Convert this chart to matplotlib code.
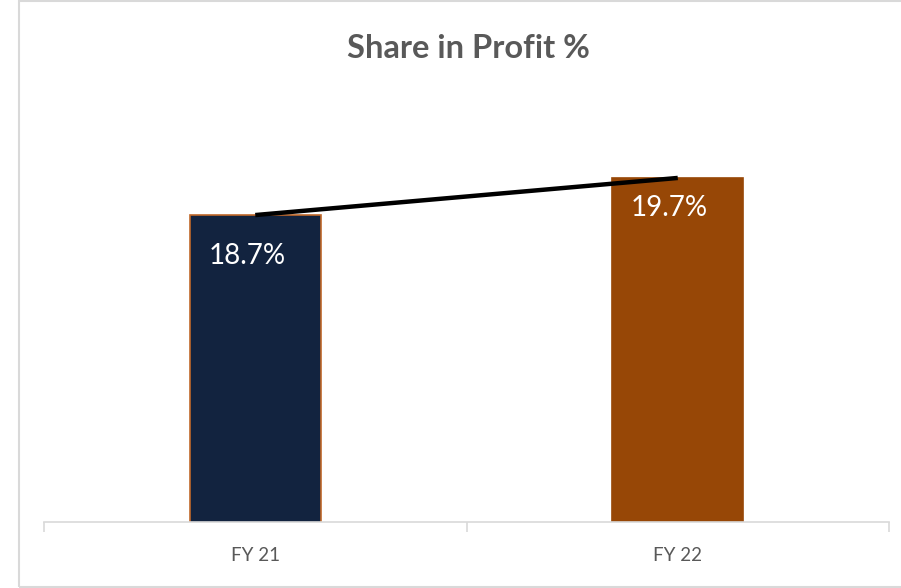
import matplotlib.pyplot as plt
from matplotlib.patches import Rectangle

categories = ["FY 21", "FY 22"]
share = [18.7, 19.7]
labels = ["18.7%", "19.7%"]
bar_colors = ["#12233f", "#974706"]
edge_colors = ["#c0682a", "#974706"]

plt.rcParams['font.family'] = ['Lato', 'DejaVu Sans']

fig = plt.figure(figsize=(9.01, 5.88), dpi=100)
ax = fig.add_axes([44 / 901, 1 - 522 / 588, 845 / 901, 422 / 588])

x = [0, 1]
bars = ax.bar(x, share, width=0.31, color=bar_colors, edgecolor=edge_colors,
              linewidth=1.2, zorder=2)
ax.plot(x, share, color="black", lw=3.2, solid_capstyle="butt", zorder=3)

for b, lab, off in zip(bars, labels, [1.1, 0.8]):
    ax.text(b.get_x() + b.get_width() / 2 - 0.02, b.get_height() - off, lab,
            ha="center", va="center", color="white", fontsize=20, zorder=4)

ax.set_xlim(-0.5, 1.5)
ax.set_ylim(10.43, 21.8)
ax.set_yticks([])
for s in ["top", "left", "right"]:
    ax.spines[s].set_visible(False)
ax.spines["bottom"].set_color("#d9d9d9")
ax.spines["bottom"].set_linewidth(1.2)
ax.set_xticks([-0.5, 0.5, 1.5], minor=False)
ax.set_xticklabels([])
ax.tick_params(axis="x", which="major", length=7, color="#d9d9d9", width=1.2)
ax.set_xticks(x, minor=True)
ax.set_xticklabels(categories, minor=True, fontsize=13.5, color="#595959")
ax.tick_params(axis="x", which="minor", length=0, pad=18)

fig.text(468 / 901, 1 - 48 / 588, "Share in Profit %", ha="center", va="center",
         fontsize=23.5, fontweight="bold", color="#595959")

fig.patches.append(Rectangle((19 / 901, 1 / 588), 1, 586 / 588, transform=fig.transFigure,
                             fill=False, edgecolor="#d9d9d9", linewidth=1.5))

fig.savefig("out.png", dpi=100)
